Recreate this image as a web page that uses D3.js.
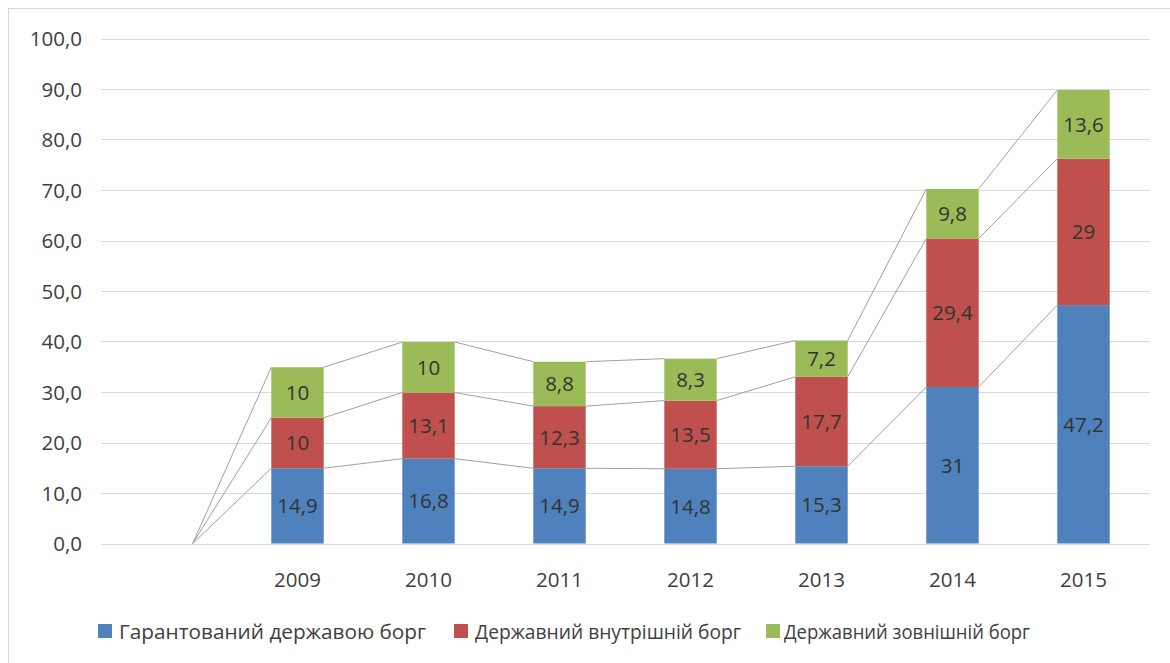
<!DOCTYPE html>
<html><head><meta charset="utf-8">
<script src="https://cdn.jsdelivr.net/npm/d3@7"></script>
<style>body{margin:0;background:#fff}svg{display:block}</style>
</head><body><svg id="c" width="1170" height="663"></svg>
<script>
const categories = ["", "2009", "2010", "2011", "2012", "2013", "2014", "2015"];
const guaranteed = [null, 14.9, 16.8, 14.9, 14.8, 15.3, 31, 47.2];
const internal   = [null, 10, 13.1, 12.3, 13.5, 17.7, 29.4, 29];
const external   = [null, 10, 10, 8.8, 8.3, 7.2, 9.8, 13.6];
const seriesNames = ["Гарантований державою борг", "Державний внутрішній борг", "Державний зовнішній борг"];
const seriesColors = ["#4F81BD", "#C0504D", "#9BBB59"];
const yTicks = [0,10,20,30,40,50,60,70,80,90,100];

const FONT = "'Open Sans', sans-serif";
const TXT = "#404040";
const svg = d3.select("#c");

svg.append("rect").attr("x",8.5).attr("y",8.5).attr("width",1200).attr("height",700)
  .attr("fill","none").attr("stroke","#d9d9d9");

const x = d3.scaleBand().domain(categories).range([101,1149]).paddingInner(0.6).paddingOuter(0.3);
const y = d3.scaleLinear().domain([0,100]).range([543.5,38.5]);

// grid
svg.append("g").selectAll("line").data(yTicks).join("line")
  .attr("x1",101).attr("x2",1150).attr("y1",d=>Math.round(y(d))+0.5).attr("y2",d=>Math.round(y(d))+0.5)
  .attr("stroke","#d9d9d9").attr("stroke-width",1);

// y axis labels
const yAxis = d3.axisLeft(y).tickValues(yTicks).tickSize(0).tickPadding(0)
  .tickFormat(d=>d.toFixed(1).replace(".",","));
const ga = svg.append("g").attr("transform","translate(82,0)").call(yAxis);
ga.select(".domain").remove();
ga.selectAll("text").attr("font-family",FONT).attr("font-size",20.5).attr("fill",TXT).attr("dy","0.36em");

// x axis labels
const xAxis = d3.axisBottom(x).tickSize(0).tickPadding(0);
const gx = svg.append("g").attr("transform","translate(0,587)").call(xAxis);
gx.select(".domain").remove();
gx.selectAll("text").attr("font-family",FONT).attr("font-size",20.5).attr("fill",TXT).attr("y",0).attr("dy","0");

// stack
const seriesData = [guaranteed, internal, external];
const rows = categories.map((c,i)=>({cat:c, s0:seriesData[0][i]||0, s1:seriesData[1][i]||0, s2:seriesData[2][i]||0, blank: seriesData[0][i]==null}));
const stack = d3.stack().keys(["s0","s1","s2"])(rows);
const bw = x.bandwidth();

// series lines
stack.forEach((layer,k)=>{
  for(let j=0;j<layer.length-1;j++){
    svg.append("line")
      .attr("x1",x(categories[j])+bw).attr("y1",y(layer[j][1]))
      .attr("x2",x(categories[j+1])).attr("y2",y(layer[j+1][1]))
      .attr("stroke","#a0a0a0").attr("stroke-width",1);
  }
});

// bars
stack.forEach((layer,k)=>{
  const g = svg.append("g");
  g.selectAll("rect").data(layer.filter(d=>!d.data.blank)).join("rect")
    .attr("x",d=>x(d.data.cat)).attr("width",bw)
    .attr("y",d=>y(d[1])).attr("height",d=>y(d[0])-y(d[1]))
    .attr("fill",seriesColors[k]);
  g.selectAll("text").data(layer.filter(d=>!d.data.blank)).join("text")
    .attr("x",d=>x(d.data.cat)+bw/2).attr("y",d=>(y(d[0])+y(d[1]))/2)
    .attr("text-anchor","middle").attr("dy","0.36em")
    .attr("font-family",FONT).attr("font-size",20.5).attr("fill","#333")
    .text(d=>String(+(d[1]-d[0]).toFixed(1)).replace(".",","));
});

// legend
const legX = [98, 454, 766];
const legTX = [119, 475, 784];
const legW = [307, 266, 246];
seriesNames.forEach((n,i)=>{
  svg.append("rect").attr("x",legX[i]).attr("y",624).attr("width",14).attr("height",14).attr("fill",seriesColors[i]);
  svg.append("text").attr("x",legTX[i]).attr("y",631.5).attr("dy","0.36em")
    .attr("font-family",FONT).attr("font-size",20.5).attr("fill",TXT)
    .attr("textLength",legW[i]).attr("lengthAdjust","spacingAndGlyphs").text(n);
});
</script></body></html>
